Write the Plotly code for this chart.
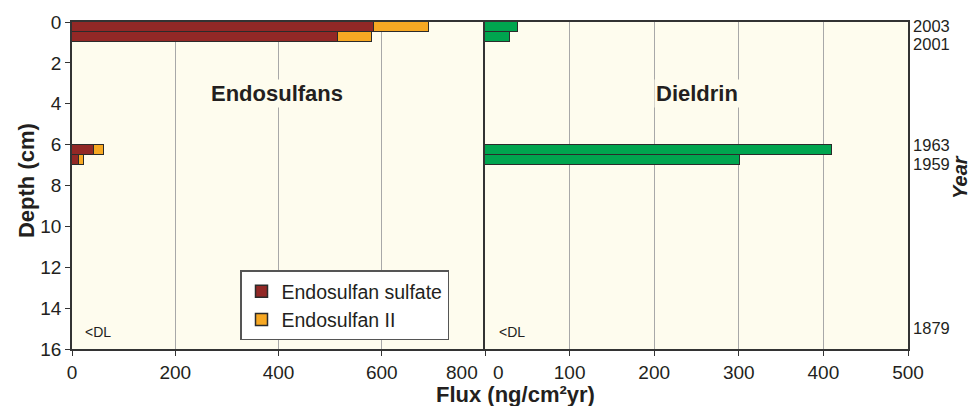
import plotly.graph_objects as go

# Data
depth_mid = [0.25, 0.75, 6.25, 6.75]          # cm (center of each 0.5 cm interval)
endo_sulfate = [585, 515, 43, 14]             # ng/cm2yr
endo_II = [107, 66, 19, 9]                    # ng/cm2yr
dieldrin = [39, 29, 410, 301]                 # ng/cm2yr
year_depths = [0.2, 1.1, 6.05, 6.95, 15.0]
year_labels = ["2003", "2001", "1963", "1959", "1879"]
left_ticks = [0, 200, 400, 600, 800]
right_ticks = [0, 100, 200, 300, 400, 500]
depth_ticks = [0, 2, 4, 6, 8, 10, 12, 14, 16]

C_SULF = "#922826"
C_II = "#F7A823"
C_DIEL = "#00A54F"
EDGE = "#2b2b2b"
BG = "#FEFCEE"
FONT = "Liberation Sans, Arial, sans-serif"

fig = go.Figure()
fig.add_trace(go.Bar(y=depth_mid, x=endo_sulfate, orientation="h", width=0.5,
                     name="Endosulfan sulfate", marker=dict(color=C_SULF, line=dict(color=EDGE, width=1.5)),
                     xaxis="x", yaxis="y"))
fig.add_trace(go.Bar(y=depth_mid, x=endo_II, orientation="h", width=0.5,
                     name="Endosulfan II", marker=dict(color=C_II, line=dict(color=EDGE, width=1.5)),
                     xaxis="x", yaxis="y"))
fig.add_trace(go.Bar(y=depth_mid, x=dieldrin, orientation="h", width=0.5,
                     name="Dieldrin", showlegend=False,
                     marker=dict(color=C_DIEL, line=dict(color=EDGE, width=1.5)),
                     xaxis="x2", yaxis="y2"))

split = (485 - 72) / 836.0
line = dict(showline=True, linecolor="#333333", linewidth=1.5)

# the labels at the shared edge (last left tick, first right tick) are drawn offset
left_text = [str(v) for v in left_ticks[:-1]] + [""]
right_text = [""] + [str(v) for v in right_ticks[1:]]

fig.update_layout(
    width=973, height=406,
    margin=dict(l=72, r=65, t=20, b=57),
    barmode="stack",
    paper_bgcolor="white",
    plot_bgcolor=BG,
    font=dict(family=FONT, size=19, color="#231f20"),
    xaxis=dict(domain=[0, split], range=[0, 800], tickvals=left_ticks, ticktext=left_text,
               ticks="outside", ticklen=5, tickcolor="#333", showgrid=True, gridcolor="#a8a8a8",
               gridwidth=1, zeroline=False, anchor="y", mirror=True, **line),
    xaxis2=dict(domain=[split, 1], range=[0, 500], tickvals=right_ticks, ticktext=right_text,
                ticks="outside", ticklen=5, tickcolor="#333", showgrid=True, gridcolor="#a8a8a8",
                gridwidth=1, zeroline=False, anchor="y2", mirror=True, **line),
    yaxis=dict(range=[16, 0], tickvals=depth_ticks, ticks="outside", ticklen=5, tickcolor="#333",
               showgrid=False, zeroline=False, anchor="x", mirror=False, **line),
    yaxis2=dict(range=[16, 0], tickvals=year_depths, ticktext=year_labels, side="right",
                ticks="", showgrid=False, zeroline=False, anchor="x2", matches="y",
                mirror=True, tickfont=dict(size=16.5), **line),
    legend=dict(x=(240 - 72) / 836.0, y=(349 - 270) / 329.0, xanchor="left", yanchor="top",
                bgcolor="white", bordercolor="#555555", borderwidth=1.5,
                font=dict(size=19.5), tracegroupgap=0, traceorder="normal"),
    bargap=0,
)

annos = [
    dict(text="<b>Endosulfans</b>", x=397, y=3.5, xref="x", yref="y", showarrow=False,
         font=dict(size=22), bgcolor=BG),
    dict(text="<b>Dieldrin</b>", x=250, y=3.5, xref="x2", yref="y2", showarrow=False,
         font=dict(size=22), bgcolor=BG),
    dict(text="&lt;DL", x=21, y=15.15, xref="x", yref="y", showarrow=False, xanchor="left",
         font=dict(size=14)),
    dict(text="&lt;DL", x=14, y=15.15, xref="x2", yref="y2", showarrow=False, xanchor="left",
         font=dict(size=14)),
    dict(text=str(left_ticks[-1]), x=left_ticks[-1], y=-(373 - 349) / 329.0, xref="x", yref="paper",
         showarrow=False, xanchor="right", yanchor="middle", xshift=-5, font=dict(size=19)),
    dict(text=str(right_ticks[0]), x=right_ticks[0], y=-(373 - 349) / 329.0, xref="x2", yref="paper",
         showarrow=False, xanchor="left", yanchor="middle", xshift=6, font=dict(size=19)),
    dict(text="<b>Depth (cm)</b>", x=(26 - 72) / 836.0, y=(349 - 180) / 329.0,
         xref="paper", yref="paper", showarrow=False, xanchor="center", yanchor="middle",
         textangle=-90, font=dict(size=22)),
    dict(text="<b>Flux (ng/cm²yr)</b>", x=(515 - 72) / 836.0, y=-(395 - 349) / 329.0,
         xref="paper", yref="paper", showarrow=False, yanchor="middle", font=dict(size=22)),
    dict(text="<b><i>Year</i></b>", x=(960 - 72) / 836.0, y=(349 - 176) / 329.0,
         xref="paper", yref="paper", showarrow=False, xanchor="center", yanchor="middle",
         textangle=-90, font=dict(size=20)),
]
fig.update_layout(annotations=annos)

fig.write_html("out.html", config={"displayModeBar": False},
               post_script="document.body.style.margin='0';document.body.style.overflow='hidden';")
